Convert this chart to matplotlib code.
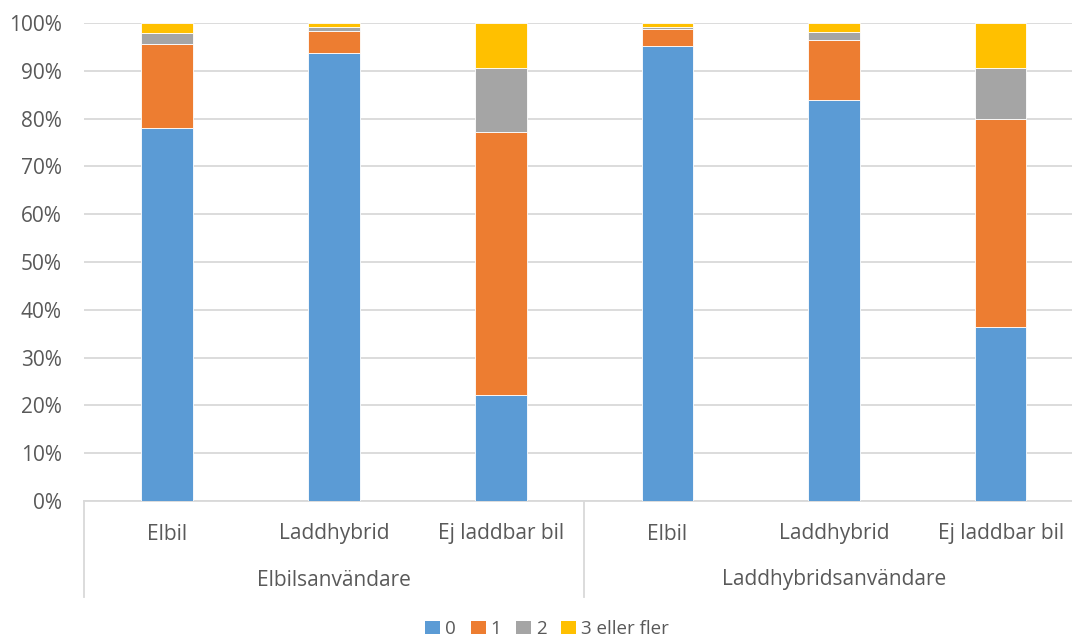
import matplotlib
matplotlib.use("Agg")
import matplotlib.pyplot as plt
from matplotlib.patches import Patch
from matplotlib.transforms import blended_transform_factory
import numpy as np

plt.rcParams["font.family"] = ["Open Sans", "DejaVu Sans"]

groups = ["Elbilsanvändare", "Laddhybridsanvändare"]
cars = ["Elbil", "Laddhybrid", "Ej laddbar bil"]
series_names = ["0", "1", "2", "3 eller fler"]
colors = ["#5B9BD5", "#ED7D31", "#A5A5A5", "#FFC000"]

# Share (%) per car type, three bars per user group
share_0 = [78.0, 93.8, 22.2, 95.1, 83.8, 36.4]
share_1 = [17.6, 4.6, 54.9, 3.7, 12.7, 43.5]
share_2 = [2.4, 0.7, 13.5, 0.4, 1.6, 10.6]
share_3 = [2.0, 0.9, 9.4, 0.8, 1.9, 9.5]
series = [share_0, share_1, share_2, share_3]

text_color = "#595959"
grid_color = "#D9D9D9"

W, H = 1072, 638
fig = plt.figure(figsize=(W / 100, H / 100), dpi=100)
ax = fig.add_axes([84 / W, 1 - 501 / H, 1000 / W, 478 / H])

x = np.arange(len(share_0))
bottom = np.zeros(len(x))
for vals, col, name in zip(series, colors, series_names):
    ax.bar(x, vals, width=0.31, bottom=bottom, color=col, edgecolor="white",
           linewidth=0.6, label=name, zorder=3)
    bottom += np.array(vals)

ax.set_xlim(-0.5, len(x) - 0.5)
ax.set_ylim(0, 100)
ax.set_yticks(np.arange(0, 101, 10))
ax.set_yticklabels([f"{v}%" for v in range(0, 101, 10)], fontsize=15, color=text_color)
ax.tick_params(axis="y", length=0, pad=16)
ax.set_xticks([])
ax.yaxis.grid(True, color=grid_color, linewidth=1.3, zorder=0)
for s in ["top", "right", "left"]:
    ax.spines[s].set_visible(False)
ax.spines["bottom"].set_color(grid_color)
ax.spines["bottom"].set_linewidth(1.3)

# Two-level category axis
tr = blended_transform_factory(ax.transData, fig.transFigure)
y_cat = 1 - 534 / H
y_grp = 1 - 580 / H
y_line_bot = 1 - 597 / H
y_line_top = 1 - 501 / H
for i, xi in enumerate(x):
    ax.text(xi, y_cat, cars[i % 3], transform=tr, ha="center", va="center",
            fontsize=15, color=text_color)
for g, name in enumerate(groups):
    ax.text(g * 3 + 1, y_grp, name, transform=tr, ha="center", va="center",
            fontsize=15, color=text_color)
for xb in [-0.5, 2.5, 5.5]:
    ax.plot([xb, xb], [y_line_bot, y_line_top], transform=tr, color=grid_color,
            linewidth=1.3, clip_on=False)

handles = [Patch(facecolor=c, edgecolor="none", label=n) for c, n in zip(colors, series_names)]
fig.legend(handles=handles, loc="center", bbox_to_anchor=(547 / W, 1 - 629 / H), ncol=4,
           frameon=False, fontsize=13.5, labelcolor=text_color, handlelength=0.8,
           handleheight=0.75, handletextpad=0.25, columnspacing=0.8, borderpad=0)

fig.savefig("out.png", dpi=100)
